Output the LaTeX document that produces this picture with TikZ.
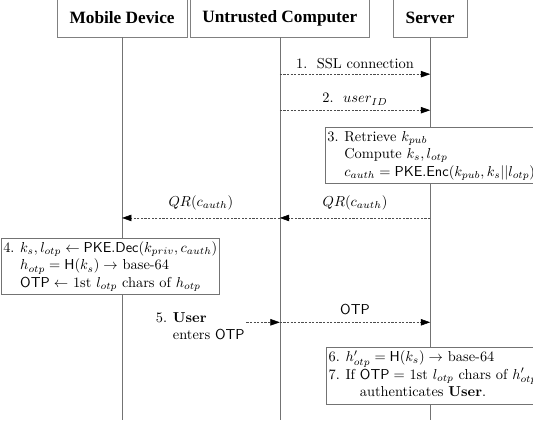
\documentclass[tikz,border=0pt]{standalone}
\usepackage{amsmath}
\usepackage{amssymb}
\usepackage{fontspec}
\newfontfamily\headfont{Liberation Serif}
\usetikzlibrary{arrows.meta,calc}

\begin{document}
\begin{tikzpicture}[
        party/.style={draw=black!50,fill=white,minimum height=0.92cm,inner xsep=8.5pt,font=\headfont\bfseries\fontsize{12}{14}\selectfont},
        life/.style={draw=black!55},
        msg/.style={draw=black!70,dash pattern=on 1.5pt off 1pt,-{Triangle[length=6.5pt,width=4.5pt,color=black]}},
        note/.style={draw=black!55,fill=white,inner sep=1.5pt,anchor=north west}
    ]
        \useasboundingbox (0,0) rectangle (13.01,-10.33);
        % parties and their lifelines
        \node[party] (md) at (2.98,-0.44) {Mobile Device};
        \node[party] (uc) at (6.83,-0.44) {Untrusted Computer};
        \node[party] (sv) at (10.50,-0.44) {Server};
        \draw[life] (md.south) -- ++(0,-9.35);
        \draw[life] (uc.south) -- ++(0,-9.35);
        \draw[life] (sv.south) -- ++(0,-9.35);
        % message heights
        \coordinate (m1) at (0,-1.81);
        \coordinate (m2) at (0,-2.69);
        \coordinate (mqr) at (0,-5.32);
        \draw[msg] (uc |- m1) -- (sv |- m1) node[midway,above] {1.\ \ SSL connection};
        \draw[msg] (uc |- m2) -- (sv |- m2) node[midway,above] {2.\ \ $user_{ID}$};
        \node[note] (st3) at (7.93,-3.10) {\begin{tabular}{@{}l@{\hspace{4pt}}l@{}}
            3. & Retrieve $k_{pub}$\\
               & Compute $k_s, l_{otp}$\\
               & $c_{auth} = \mathsf{PKE.Enc}(k_{pub}, k_s||l_{otp})$
        \end{tabular}};
        \draw[msg] (sv |- mqr) -- (uc |- mqr) node[midway,above=2pt] {$QR(c_{auth})$};
        \draw[msg] (uc |- mqr) -- (md |- mqr) node[midway,above=2pt] {$QR(c_{auth})$};
        \node[note] (st4) at (0.02,-5.81) {\begin{tabular}{@{}l@{\hspace{4pt}}l@{}}
            4. & $k_s, l_{otp} \leftarrow \mathsf{PKE.Dec}(k_{priv}, c_{auth})$\\
               & $h_{otp} = \mathsf{H}(k_s) \rightarrow$ base-64\\
               & $\mathsf{OTP} \leftarrow$ 1st $l_{otp}$ chars of $h_{otp}$
        \end{tabular}};
        \node[anchor=west,inner sep=0pt] (user) at (3.80,-7.99) {\begin{tabular}{@{}l@{\hspace{4pt}}l@{}}
            5. & \textbf{User}\\
               & enters $\mathsf{OTP}$
        \end{tabular}};
        \coordinate (m5) at ([xshift=1pt,yshift=3.5pt]user.east);
        \draw[msg] (m5) -- (uc |- m5);
        \draw[msg] (uc |- m5) -- (sv |- m5) node[midway,above=1.5pt] {$\mathsf{OTP}$};
        \node[note] (st6) at (7.96,-8.47) {\begin{tabular}{@{}l@{\hspace{4pt}}l@{}}
            6. & $h'_{otp} = \mathsf{H}(k_s) \rightarrow$ base-64\\
            7. & If $\mathsf{OTP} =$ 1st $l_{otp}$ chars of $h'_{otp}$\\
               & \quad authenticates \textbf{User}.
        \end{tabular}};
\end{tikzpicture}
\end{document}
